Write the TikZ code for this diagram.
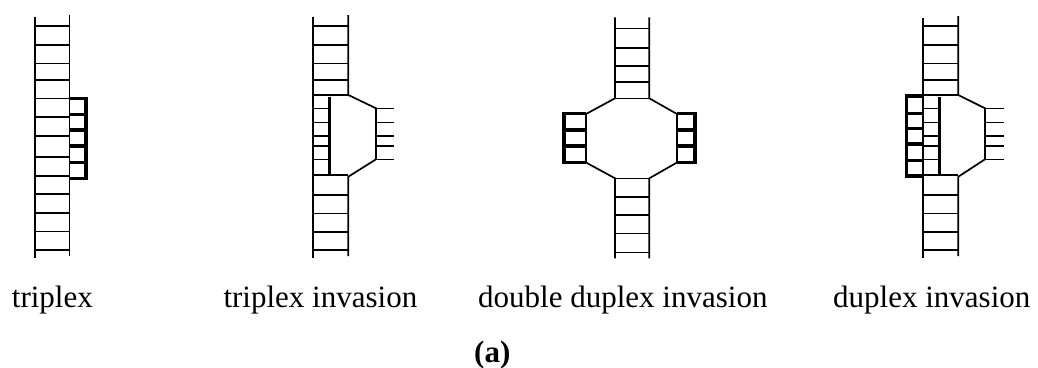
\documentclass[tikz,border=0pt]{standalone}
\usepackage{fontspec}
\setmainfont{Liberation Serif}
\begin{document}
\begin{tikzpicture}[x=1pt,y=-1pt,
  strand/.style={line width=1.7pt},
  rung/.style={line width=1.6pt},
  heavy/.style={line width=3.5pt},
  label/.style={inner sep=0pt,anchor=base west,font=\fontsize{31}{36}\selectfont}]
\useasboundingbox (0,0) rectangle (1038,367);

% ---- triplex ----
\draw[strand] (35,17) -- (35,258);
\draw[strand] (69.5,15) -- (69.5,256);
\foreach \y in {26,44.7,63.3,80,98.3,116.7,135.7,156.7,175.7,194,212.7,231.3,250}
  \draw[rung] (35,\y) -- (69.5,\y);
\draw[heavy] (69.5,98.3) -- (86,98.3) -- (86,178.3) -- (69.5,178.3);
\foreach \y in {114.3,130,146,162.3}
  \draw[heavy] (69.5,\y) -- (86,\y);

% ---- triplex invasion ----
\draw[strand] (313.3,17) -- (313.3,258);
\draw[strand] (348.3,15) -- (348.3,95) -- (376,108.3) -- (376,159.3) -- (348.3,176.7) -- (348.3,256);
\foreach \y in {26,44.7,63.3,80,95,175,195,213.3,231.7,250}
  \draw[rung] (313.3,\y) -- (348.3,\y);
\foreach \y in {108.3,122.3,135.7,146,159.3} {
  \draw[rung] (376,\y) -- (394,\y);
  \draw[rung] (313.3,\y) -- (329.3,\y);
}
\draw[heavy] (329.3,96.7) -- (329.3,175);

% ---- double duplex invasion ----
\draw[strand] (615,17.3) -- (615,98.3) -- (586,114) -- (586,162.5) -- (615,178.3) -- (615,258.3);
\draw[strand] (649.3,17.3) -- (649.3,98.3) -- (677,114) -- (677,162.5) -- (649.3,178.3) -- (649.3,258.3);
\foreach \y in {28.3,47.7,66,81.7,98.3,178.3,196.7,215,233.3,252.3}
  \draw[rung] (615,\y) -- (649.3,\y);
\draw[heavy] (586,113.3) -- (564,113.3) -- (564,162.3) -- (586,162.3);
\draw[heavy] (677,113.3) -- (695,113.3) -- (695,162.3) -- (677,162.3);
\foreach \y in {130,146} {
  \draw[heavy] (564,\y) -- (586,\y);
  \draw[heavy] (677,\y) -- (695,\y);
}

% ---- duplex invasion ----
\draw[strand] (923.3,18) -- (923.3,258);
\draw[strand] (958.3,16) -- (958.3,95) -- (985,108.3) -- (985,159.3) -- (958.3,176.7) -- (958.3,256);
\foreach \y in {26,44.7,63.3,80,95,175,195,213.3,231.7,250}
  \draw[rung] (923.3,\y) -- (958.3,\y);
\foreach \y in {108.3,122.3,135.7,146,159.3} {
  \draw[rung] (985,\y) -- (1004,\y);
  \draw[rung] (923.3,\y) -- (939.3,\y);
}
\draw[heavy] (939.3,96.7) -- (939.3,175);
\draw[heavy] (923.3,96) -- (906.7,96) -- (906.7,176) -- (923.3,176);
\foreach \y in {113.3,128.3,144,160.7}
  \draw[heavy] (906.7,\y) -- (923.3,\y);

% ---- captions ----
\node[label] (capA) at (11.7,307.3) {triplex};
\node[label] (capB) at (223.3,307.3) {triplex invasion};
\node[label] (capC) at (478,307.3) {double duplex invasion};
\node[label] (capD) at (833,307.3) {duplex invasion};
\node[label,font=\fontsize{31}{36}\selectfont\bfseries] (panel) at (474,362) {(a)};
\end{tikzpicture}
\end{document}
